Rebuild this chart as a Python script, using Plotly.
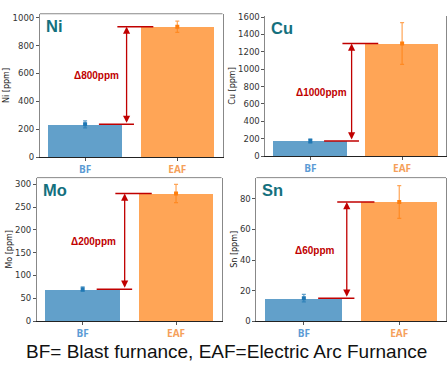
import plotly.graph_objects as go

categories = ["BF", "EAF"]
elements = ["Ni", "Cu", "Mo", "Sn"]
bf_values = [235, 175, 70, 15]
eaf_values = [935, 1295, 280, 78]
bf_errors = [25, 25, 5, 2.5]
eaf_errors = [40, 240, 20, 10.7]
delta_labels = ["Δ800ppm", "Δ1000ppm", "Δ200ppm", "Δ60ppm"]
y_ticks = [
    [0, 200, 400, 600, 800, 1000],
    [0, 200, 400, 600, 800, 1000, 1200, 1400, 1600],
    [0, 50, 100, 150, 200, 250, 300],
    [0, 20, 40, 60, 80],
]
y_max = [1028, 1615, 315, 94]

W, H = 447, 367
# panel pixel boxes: (left, right, top, bottom)
boxes = [(40, 223, 10, 157), (266, 447, 12, 156), (37, 222, 178, 325), (257, 447, 178, 325)]
x_ranges = [[-0.49, 1.49], [-0.489, 1.478], [-0.49, 1.487], [-0.497, 1.49]]
top_border = [True, False, True, True]

BF_BAR = "#62a0ca"
EAF_BAR = "#ffa556"
BF_ERR = "#1f77b4"
EAF_ERR = "#ff7f0e"
RED = "#c00000"
TEAL = "#14707e"

fig = go.Figure()
shapes = []
annotations = []

for i, el in enumerate(elements):
    n = "" if i == 0 else str(i + 1)
    xa, ya = "x" + n, "y" + n
    l, r, t, b = boxes[i]
    fig.add_trace(go.Bar(
        x=[0, 1], y=[bf_values[i], eaf_values[i]], width=0.8,
        marker=dict(color=[BF_BAR, EAF_BAR], line=dict(width=0)),
        xaxis=xa, yaxis=ya, showlegend=False))
    fig.add_trace(go.Scatter(
        x=[0], y=[bf_values[i]], mode="markers",
        marker=dict(color=BF_ERR, size=4, symbol="square"),
        error_y=dict(type="data", array=[bf_errors[i]], color="rgba(31,119,180,0.7)", thickness=1.2, width=2),
        xaxis=xa, yaxis=ya, showlegend=False))
    fig.add_trace(go.Scatter(
        x=[1], y=[eaf_values[i]], mode="markers",
        marker=dict(color=EAF_ERR, size=4, symbol="square"),
        error_y=dict(type="data", array=[eaf_errors[i]], color="rgba(255,127,14,0.7)", thickness=1.2, width=2),
        xaxis=xa, yaxis=ya, showlegend=False))

    fig.layout["xaxis" + n] = dict(
        domain=[l / W, r / W], range=x_ranges[i], anchor=ya,
        tickvals=[0, 1],
        ticktext=["<b><span style='color:#5b9bd5'>BF</span></b>",
                  "<b><span style='color:#f5a05a'>EAF</span></b>"],
        tickfont=dict(size=10, family="Open Sans"),
        showline=True, linecolor="#222", linewidth=1.2,
        ticks="outside", ticklen=3, tickcolor="#555",
        showgrid=False, zeroline=False, fixedrange=True)
    fig.layout["yaxis" + n] = dict(
        domain=[1 - b / H, 1 - t / H], range=[0, y_max[i]], anchor=xa,
        tickvals=y_ticks[i], tickfont=dict(size=8.5, family="DejaVu Sans", color="#333"),
        title=dict(text=f"{el} [ppm]", font=dict(size=8, family="DejaVu Sans", color="#222"), standoff=1),
        showline=True, linecolor="#888", linewidth=1, mirror=True,
        ticks="outside", ticklen=3, tickcolor="#555",
        showgrid=False, zeroline=False, fixedrange=True)

    if top_border[i]:
        shapes.append(dict(type="line", xref=xa + " domain", yref=ya + " domain",
                           x0=0, x1=1, y0=1, y1=1, line=dict(color="#888", width=1)))

    # horizontal reference lines
    shapes.append(dict(type="line", xref=xa, yref=ya, x0=0.15, x1=0.53,
                       y0=bf_values[i], y1=bf_values[i], line=dict(color=RED, width=1.5)))
    shapes.append(dict(type="line", xref=xa, yref=ya, x0=0.35, x1=0.74,
                       y0=eaf_values[i], y1=eaf_values[i], line=dict(color=RED, width=1.5)))
    # double-headed arrow
    annotations.append(dict(xref=xa, yref=ya, axref=xa, ayref=ya,
                            x=0.45, y=eaf_values[i], ax=0.45, ay=bf_values[i],
                            text="", showarrow=True, arrowhead=2, startarrowhead=2,
                            arrowside="end+start", arrowsize=1.1, arrowwidth=1.3,
                            arrowcolor=RED, standoff=0, startstandoff=0))
    annotations.append(dict(xref=xa, yref=ya, x=0.12,
                            y=(bf_values[i] + eaf_values[i]) / 2,
                            text=f"<b>{delta_labels[i]}</b>", showarrow=False,
                            font=dict(size=10, color=RED, family="Liberation Sans")))
    annotations.append(dict(xref=xa + " domain", yref=ya + " domain", x=0.02, y=0.99,
                            xanchor="left", yanchor="top",
                            text=f"<b>{el}</b>", showarrow=False,
                            font=dict(size=16.5, color=TEAL, family="Liberation Sans")))

annotations.append(dict(xref="paper", yref="paper", x=0.507, y=1 - 356 / H,
                        xanchor="center", yanchor="middle",
                        text="BF= Blast furnance, EAF=Electric Arc Furnance",
                        showarrow=False, font=dict(size=19, color="#111", family="Liberation Sans")))

fig.update_layout(
    width=W, height=H, margin=dict(l=0, r=0, t=0, b=0),
    paper_bgcolor="white", plot_bgcolor="white",
    shapes=shapes, annotations=annotations, bargap=0)

fig.write_html("out.html")
